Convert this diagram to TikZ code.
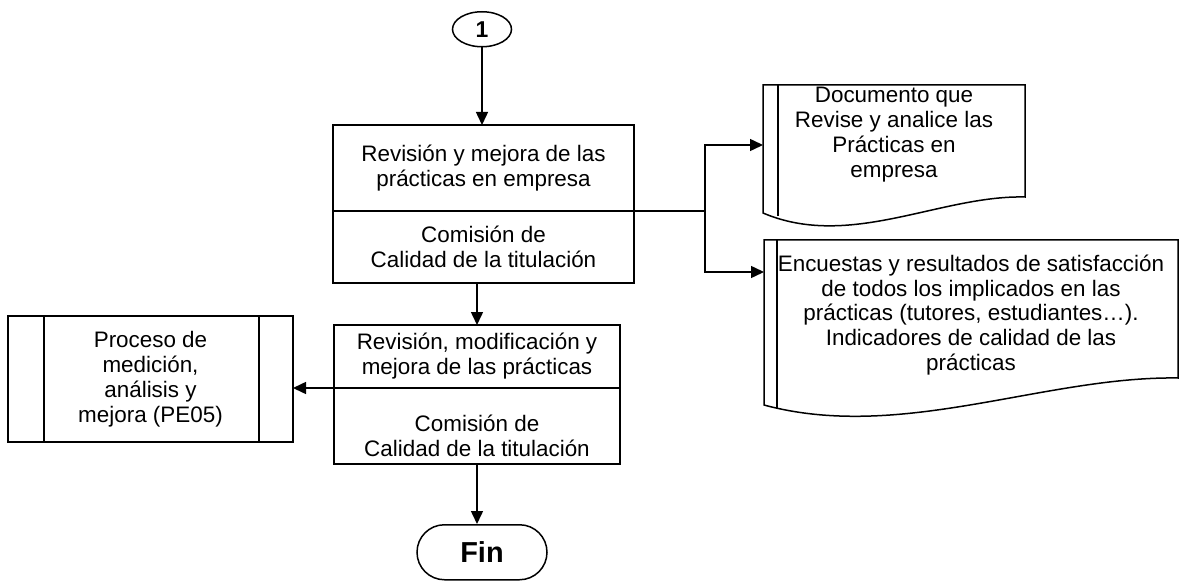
\documentclass[tikz,border=0pt]{standalone}
\usepackage{fontspec}
\setmainfont{Liberation Sans}
\usetikzlibrary{positioning, arrows.meta, shapes.geometric, shapes.misc}

\begin{document}
\begin{tikzpicture}[
    x=1bp, y=1bp,
    >={Triangle[length=13bp, width=12bp]},
    line width=1.5bp,
    % Styles for the flowchart elements
    txt/.style={font=\fontsize{22.5}{25}\selectfont, align=center, inner sep=0pt},
    task/.style={txt, rectangle, draw=black, outer sep=0pt},
    docu/.style={txt, rectangle, outer sep=0pt},
    subproc/.style={txt, rectangle, draw=black, outer sep=0pt},
    connector/.style={ellipse, draw=black, inner sep=0pt, minimum width=59bp, minimum height=35bp, font=\fontsize{23}{25}\selectfont\bfseries},
    terminal/.style={rounded rectangle, draw=black, inner sep=0pt, minimum width=130bp, minimum height=55bp, font=\fontsize{29}{32}\selectfont\bfseries}
]
  \useasboundingbox (0,0) rectangle (1181,-582);

  % --- REVIEW OF THE PRACTICES ---
  \node[task, minimum width=301bp, minimum height=86bp] (rev1) at (483.5,-168) {Revisión y mejora de las \\ prácticas en empresa};
  \node[task, minimum width=301bp, minimum height=72bp, below=0pt of rev1] (rev2) {Comisión de \\ Calidad de la titulación};

  \node[connector, above=77.5bp of rev1, xshift=-1.5bp] (one) {1};

  % --- MODIFICATION ---
  \node[task, minimum width=286bp, minimum height=63bp, below=42bp of rev2, xshift=-6.5bp] (mod1) {Revisión, modificación y \\ mejora de las prácticas};
  \node[task, minimum width=286bp, minimum height=76bp, below=0pt of mod1,
        label={[txt, yshift=-10bp]center:{Comisión de \\ Calidad de la titulación}}] (mod2) {};

  \node[terminal, below=60bp of mod2, xshift=5bp] (fin) {Fin};

  % --- SUBPROCESS ---
  \node[subproc, minimum width=285bp, minimum height=126bp] (proc) at (150.5,-379) {Proceso de \\ medición, \\ análisis y \\ mejora (PE05)};
  \draw ([xshift=36bp]proc.north west) -- ([xshift=36bp]proc.south west);
  \draw ([xshift=-34bp]proc.north east) -- ([xshift=-34bp]proc.south east);

  % --- DOCUMENTS ---
  \node[docu, minimum width=262bp, minimum height=99bp] (doc1) at (894,-134.5) {Documento que \\ Revise y analice las \\ Prácticas en \\ empresa};
  \draw (doc1.north west) -- (doc1.north east) -- ([yshift=-13bp]doc1.south east)
    .. controls +(-85,2) and +(87,-37) .. ([yshift=-29bp]doc1.south west) -- cycle;
  \draw ([xshift=15bp]doc1.north west) -- ([xshift=15bp, yshift=-32bp]doc1.south west);

  \node[docu, minimum width=414bp, minimum height=150bp] (doc2) at (971,-315) {Encuestas y resultados de satisfacción \\ de todos los implicados en las \\ prácticas (tutores, estudiantes…). \\ Indicadores de calidad de las \\ prácticas};
  \draw (doc2.north west) -- (doc2.north east) -- ([yshift=12bp]doc2.south east)
    .. controls +(-134,2) and +(137,-37) .. ([yshift=-15bp]doc2.south west) -- cycle;
  \draw ([xshift=13bp]doc2.north west) -- ([xshift=13bp, yshift=-18bp]doc2.south west);

  % --- EDGES ---
  \draw[->] (one) -- (one |- rev1.north);
  \draw[->] (rev2.south -| mod1.north) -- (mod1.north);
  \draw[->] (mod2.south) -- (mod2.south |- fin.north);
  \draw[->] (mod1.south west) -- (mod1.south west -| proc.east);

  % Outputs of the review
  \coordinate[right=71bp of rev1.south east] (split);
  \draw (rev1.south east) -- (split);
  \draw[->] (split) |- ([yshift=-60bp]doc1.north west);
  \draw[->] (split) |- ([yshift=-32bp]doc2.north west);

\end{tikzpicture}
\end{document}
